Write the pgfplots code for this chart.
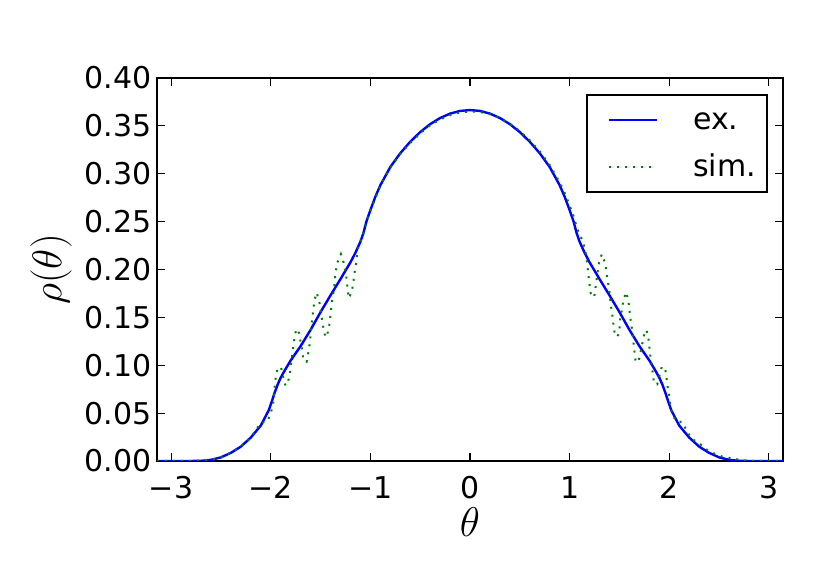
\documentclass[border=0pt]{standalone}
\usepackage{fontspec}
\setmainfont{DejaVu Sans}
\usepackage{pgfplots}
\pgfplotsset{compat=1.18}

\begin{document}
\begin{tikzpicture}
\begin{axis}[
  scale only axis,
  width=313pt, height=191.5pt,
  xmin=-3.14159, xmax=3.14159,
  ymin=0, ymax=0.4,
  xtick={-3,-2,-1,0,1,2,3},
  xticklabels={−3,−2,−1,0,1,2,3},
  ytick={0,0.05,0.1,0.15,0.2,0.25,0.3,0.35,0.4},
  yticklabels={0.00,0.05,0.10,0.15,0.20,0.25,0.30,0.35,0.40},
  tick align=inside,
  major tick length=4pt,
  every tick/.style={black, line width=0.6pt},
  axis line style={line width=1pt},
  tick label style={font=\fontsize{15}{18}\selectfont},
  xticklabel style={anchor=north, inner sep=0pt, yshift=-7.5pt},
  yticklabel style={anchor=east, inner sep=0pt, xshift=-2.6pt},
  xlabel={$\theta$},
  ylabel={$\rho(\theta)$},
  label style={font=\fontsize{22}{26}\selectfont, inner sep=0pt},
  xlabel style={at={(axis description cs:0.5,-0.12)}, anchor=north},
  ylabel style={at={(axis description cs:-0.1358,0.5)}, anchor=south},
  legend cell align=left,
  legend image code/.code={
    \path[draw=none, fill=none] (0pt,-0.5pt) rectangle (29.5pt,0.5pt);
    \draw[#1] (5.5pt,0pt) -- (29.5pt,0pt);
  },
  legend style={
    at={(1,1)}, anchor=north east, xshift=-7.5pt, yshift=-8pt,
    draw=black, line width=1pt, fill=white,
    inner xsep=5.5pt, inner ysep=5pt,
    row sep=8.5pt, column sep=17.5pt,
    font=\fontsize{15}{18}\selectfont,
    nodes={inner sep=0pt, text height=12.5pt, text depth=2.5pt},
  },
]
% exact density
\addplot[blue, line width=1.2pt] coordinates {
  (-3.1416,0) (-2.8,0) (-2.7,0.0002) (-2.6,0.0012) (-2.5,0.0038) (-2.4,0.0085)
  (-2.3,0.0150) (-2.2,0.0245) (-2.1,0.0370) (-2.06,0.0450) (-2.02,0.0530)
  (-1.99,0.0620) (-1.96,0.0715) (-1.93,0.0800) (-1.9,0.0870) (-1.86,0.0945)
  (-1.8,0.1050) (-1.7,0.1200) (-1.6,0.1370) (-1.5,0.1555) (-1.4,0.1730)
  (-1.3,0.1900) (-1.2,0.2075) (-1.15,0.2175) (-1.1,0.2290) (-1.07,0.2380)
  (-1.04,0.2500) (-1.0,0.2620) (-0.95,0.2760) (-0.9,0.2880) (-0.8,0.3070)
  (-0.7,0.3214) (-0.6,0.3334) (-0.5,0.3435) (-0.4,0.3518) (-0.3,0.3582)
  (-0.2,0.3628) (-0.1,0.3656) (0,0.3665)
  (0.1,0.3656) (0.2,0.3628) (0.3,0.3582) (0.4,0.3518) (0.5,0.3435)
  (0.6,0.3334) (0.7,0.3214) (0.8,0.3070) (0.9,0.2880) (0.95,0.2760)
  (1.0,0.2620) (1.04,0.2500) (1.07,0.2380) (1.1,0.2290) (1.15,0.2175)
  (1.2,0.2075) (1.3,0.1900) (1.4,0.1730) (1.5,0.1555) (1.6,0.1370)
  (1.7,0.1200) (1.8,0.1050) (1.86,0.0945) (1.9,0.0870) (1.93,0.0800)
  (1.96,0.0715) (1.99,0.0620) (2.02,0.0530) (2.06,0.0450) (2.1,0.0370)
  (2.2,0.0245) (2.3,0.0150) (2.4,0.0085) (2.5,0.0038) (2.6,0.0012)
  (2.7,0.0002) (2.8,0) (3.1416,0)
};
\addlegendentry{ex.}
% simulation
\addplot[green!50!black, line width=1pt, line cap=butt, dash pattern=on 1pt off 3pt] coordinates {
  (-3.1416,0) (-2.8,0) (-2.6,0.0012) (-2.5,0.0038) (-2.4,0.0085) (-2.3,0.0150)
  (-2.2,0.0245) (-2.1,0.0400) (-2.034,0.0410) (-2.0,0.0500) (-1.976,0.0595)
  (-1.96,0.0780) (-1.95,0.0877) (-1.929,0.0975) (-1.896,0.0975) (-1.875,0.0877)
  (-1.852,0.0787) (-1.828,0.0818) (-1.808,0.0916) (-1.774,0.1194) (-1.761,0.1289)
  (-1.744,0.1379) (-1.714,0.1334) (-1.700,0.1236) (-1.683,0.1150) (-1.673,0.1055)
  (-1.640,0.1037) (-1.623,0.1132) (-1.609,0.1222) (-1.582,0.1500) (-1.572,0.1594)
  (-1.559,0.1688) (-1.539,0.1758) (-1.512,0.1664) (-1.485,0.1480) (-1.471,0.1386)
  (-1.451,0.1292) (-1.431,0.1330) (-1.411,0.1427) (-1.401,0.1520) (-1.391,0.1612)
  (-1.380,0.1710) (-1.364,0.1792) (-1.357,0.1890) (-1.347,0.1984) (-1.330,0.2075)
  (-1.296,0.2160) (-1.269,0.2075) (-1.236,0.1890) (-1.229,0.1790) (-1.216,0.1700)
  (-1.189,0.1760) (-1.172,0.1854) (-1.162,0.1950) (-1.145,0.2047) (-1.135,0.2134)
  (-1.121,0.2230) (-1.10,0.2290) (-1.07,0.2380) (-1.04,0.2495) (-1.0,0.2615)
  (-0.9,0.2875) (-0.8,0.3065) (-0.7,0.3205) (-0.6,0.3322) (-0.5,0.3422)
  (-0.4,0.3505) (-0.3,0.3568) (-0.2,0.3612) (-0.1,0.3640) (0,0.3650)
  (0.1,0.3645) (0.2,0.3622) (0.3,0.3582) (0.4,0.3522) (0.5,0.3445)
  (0.6,0.3350) (0.7,0.3235) (0.8,0.3090) (0.9,0.2910) (0.95,0.2800)
  (1.0,0.2670) (1.04,0.2555) (1.07,0.2445) (1.10,0.2365) (1.128,0.2308)
  (1.152,0.2221) (1.168,0.2127) (1.178,0.2037) (1.189,0.1942) (1.199,0.1849)
  (1.212,0.1751) (1.246,0.1709) (1.259,0.1804) (1.283,0.1988) (1.296,0.2082)
  (1.323,0.2159) (1.357,0.2065) (1.370,0.1970) (1.384,0.1876) (1.397,0.1786)
  (1.407,0.1692) (1.418,0.1598) (1.431,0.1504) (1.441,0.1410) (1.455,0.1319)
  (1.481,0.1298) (1.502,0.1396) (1.508,0.1490) (1.525,0.1580) (1.539,0.1676)
  (1.566,0.1763) (1.589,0.1682) (1.599,0.1587) (1.609,0.1494) (1.623,0.1400)
  (1.633,0.1306) (1.643,0.1212) (1.653,0.1121) (1.663,0.1031) (1.694,0.1050)
  (1.734,0.1250) (1.751,0.1340) (1.771,0.1368) (1.791,0.1277) (1.801,0.1184)
  (1.811,0.1090) (1.825,0.1000) (1.835,0.0907) (1.848,0.0811) (1.879,0.0801)
  (1.902,0.0893) (1.926,0.0987) (1.960,0.0960) (1.973,0.0863) (1.983,0.0776)
  (2.000,0.0682) (2.010,0.0592) (2.027,0.0498) (2.064,0.0420) (2.135,0.0403)
  (2.175,0.0314) (2.226,0.0230) (2.303,0.0185) (2.370,0.0122) (2.448,0.0080)
  (2.532,0.0046) (2.616,0.0029) (2.75,0.0005) (2.9,0) (3.1416,0)
};
\addlegendentry{sim.}
\end{axis}
\path ([shift={(-78.5pt,-54pt)}]current axis.south west)
  rectangle ([shift={(23.5pt,39pt)}]current axis.north east);
\end{tikzpicture}
\end{document}
